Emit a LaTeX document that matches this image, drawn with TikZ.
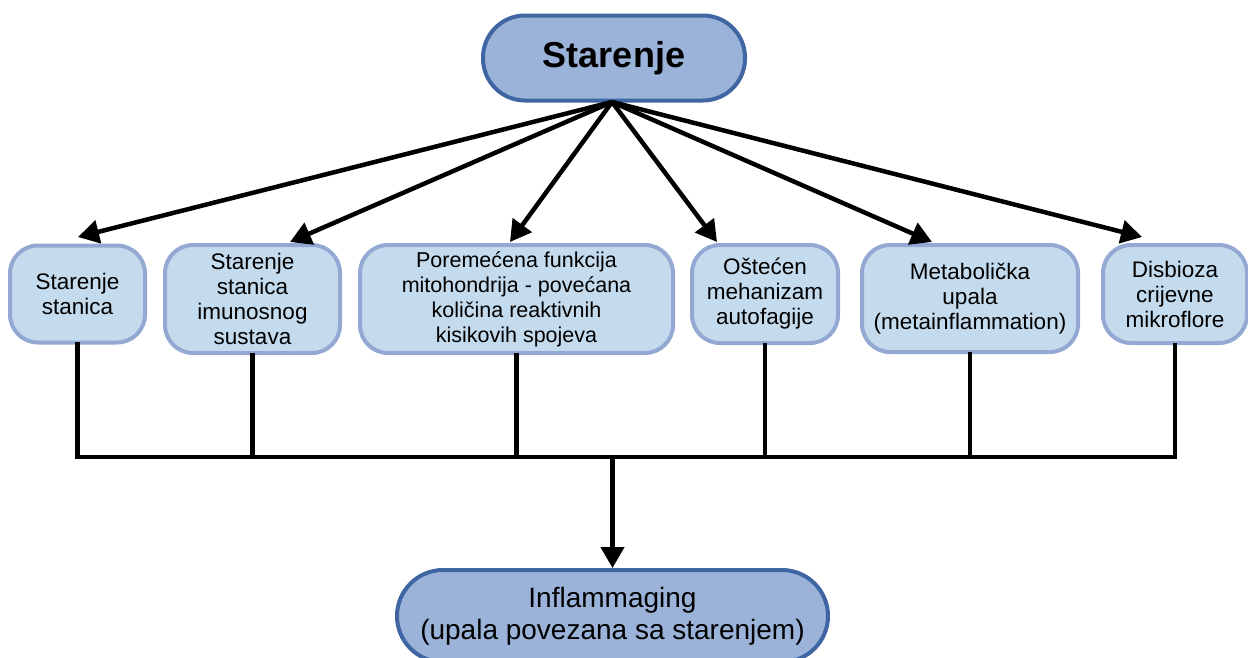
\documentclass[tikz,border=0pt]{standalone}
\usepackage{fontspec}
\setmainfont{Liberation Sans}
\usetikzlibrary{arrows.meta,calc}
\definecolor{boxfill}{HTML}{C4DBEE}
\definecolor{boxline}{HTML}{93A9D3}
\definecolor{mainfill}{HTML}{9BB3D9}
\definecolor{mainline}{HTML}{3F66A3}
\tikzset{
  mainbox/.style={draw=mainline, fill=mainfill, line width=4pt, align=center, inner sep=0pt},
  subbox/.style={draw=boxline, fill=boxfill, line width=4pt, rounded corners=28pt, align=center, inner sep=0pt,
     font=\fontsize{22.5}{25}\selectfont},
  arr/.style={line width=4.5pt, -{Triangle[length=21pt,width=23pt]}},
  conn/.style={line width=4.5pt, line cap=rect}
}
\begin{document}
\begin{tikzpicture}[x=1pt,y=-1pt]
\useasboundingbox (0,0) rectangle (1248,657);
\node[mainbox, minimum width=262pt, minimum height=85pt, rounded corners=42pt,
      font=\fontsize{36}{42}\selectfont\bfseries] (top) at (614,58) {Starenje};
\node[subbox, minimum width=135pt, minimum height=97pt] (b1) at (77.5,294) {Starenje\\stanica};
\node[subbox, minimum width=175pt, minimum height=108pt] (b2) at (252.5,299) {Starenje\\stanica\\imunosnog\\sustava};
\node[subbox, minimum width=313pt, minimum height=108pt, font=\fontsize{21.5}{25}\selectfont] (b3) at (516.5,299) {Poremećena funkcija\\mitohondrija - povećana\\količina reaktivnih\\kisikovih spojeva};
\node[subbox, minimum width=146pt, minimum height=98pt] (b4) at (765,294) {Oštećen\\mehanizam\\autofagije};
\node[subbox, minimum width=216pt, minimum height=107pt] (b5) at (970,298.5) {Metabolička\\upala\\(metainflammation)};
\node[subbox, minimum width=144pt, minimum height=98pt] (b6) at (1175,294) {Disbioza\\crijevne\\mikroflore};
\node[mainbox, minimum width=431pt, minimum height=92pt, rounded corners=46pt,
      font=\fontsize{28}{32}\selectfont] (inf) at (612.5,616) {Inflammaging\\(upala povezana sa starenjem)};
\coordinate (src) at (612,102);
\coordinate (t1) at (78,237);
\coordinate (t2) at (290,242);
\coordinate (t3) at (510,242);
\coordinate (t4) at (717,242);
\coordinate (t5) at (932,242);
\coordinate (t6) at (1142,237);
\foreach \t in {t1,t2,t3,t4,t5,t6} \draw[arr] (src) -- (\t);
\coordinate (bus) at (612.5,457);
\foreach \b in {b1,b2,b3,b4,b5,b6} \draw[conn] (\b.south) -- (\b.south |- bus);
\draw[conn] (b1.south |- bus) -- (b6.south |- bus);
\draw[arr] (bus) -- (inf.north);
\end{tikzpicture}
\end{document}
